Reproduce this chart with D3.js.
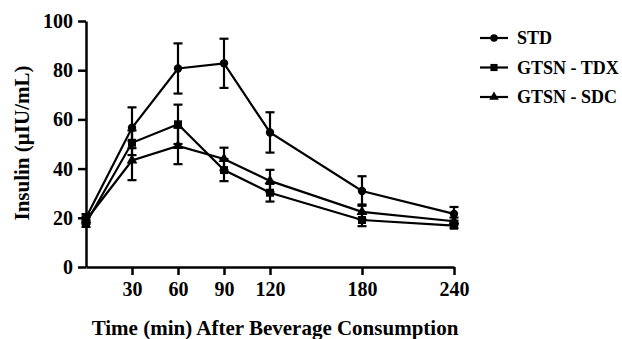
<!DOCTYPE html>
<html>
<head>
<meta charset="utf-8">
<script src="https://cdn.jsdelivr.net/npm/d3@7"></script>
<style>
  body { margin: 0; background: #fff; }
  svg text { font-family: "Liberation Serif", "Times New Roman", serif; font-weight: bold; fill: #000; }
</style>
</head>
<body>
<svg id="chart" width="622" height="339"></svg>
<script>
// time points (min) and mean +/- error for each beverage
const times = [0, 30, 60, 90, 120, 180, 240]
const seriesNames = ['STD', 'GTSN - TDX', 'GTSN - SDC']
const stdMean = [20, 56.6, 80.7, 82.8, 54.7, 30.9, 21.6]
const stdErr = [1.5, 8.3, 10.2, 10, 8.2, 6, 2.8]
const tdxMean = [17.8, 50.5, 58, 39.4, 30.2, 19.1, 16.8]
const tdxErr = [1.5, 5, 8, 4.5, 3.6, 2.5, 1]
const sdcMean = [19, 43.3, 49.2, 43.9, 35, 22.4, 18.6]
const sdcErr = [1.5, 8, 7.4, 4.6, 4.5, 3, 1.5]
const xTicks = [30, 60, 90, 120, 180, 240]
const yTicks = [0, 20, 40, 60, 80, 100]

const svg = d3.select('#chart')

const x = d3.scaleLinear().domain([0, 240]).range([86, 454])
const y = d3.scaleLinear().domain([0, 100]).range([267, 21])

const series = [
	{ name: seriesNames[0], mean: stdMean, err: stdErr, shape: d3.symbolCircle, size: 55 },
	{ name: seriesNames[1], mean: tdxMean, err: tdxErr, shape: d3.symbolSquare, size: 64 },
	{ name: seriesNames[2], mean: sdcMean, err: sdcErr, shape: d3.symbolTriangle, size: 50 }
]

// axes
const xAxis = svg.append('g')
	.attr('transform', `translate(0,${y(0)})`)
	.call(d3.axisBottom(x).tickValues(xTicks).tickSize(8).tickSizeOuter(0).tickPadding(7))
const yAxis = svg.append('g')
	.attr('transform', `translate(${x(0)},0)`)
	.call(d3.axisLeft(y).tickValues(yTicks).tickSize(8).tickSizeOuter(0).tickPadding(5))

;[xAxis, yAxis].forEach((ax) => {
	ax.select('.domain').attr('stroke', '#000').attr('stroke-width', 2.5)
	ax.selectAll('.tick line').attr('stroke', '#000').attr('stroke-width', 2.5)
	ax.selectAll('.tick text')
		.style('font-family', '"Liberation Serif", "Times New Roman", serif')
		.style('font-weight', 'bold')
		.style('font-size', '20px')
		.attr('fill', '#000')
})

// axis titles
svg.append('text')
	.attr('x', 275)
	.attr('y', 335)
	.attr('text-anchor', 'middle')
	.style('font-size', '21px')
	.text('Time (min) After Beverage Consumption')

svg.append('text')
	.attr('transform', 'translate(29,143) rotate(-90)')
	.attr('text-anchor', 'middle')
	.style('font-size', '21px')
	.text('Insulin (µIU/mL)')

const line = d3.line()
	.x((d, i) => x(times[i]))
	.y((d) => y(d))

series.forEach((s) => {
	const g = svg.append('g')

	// error bars
	const bars = g.selectAll('.err')
		.data(s.mean)
		.enter()
		.append('g')
		.attr('class', 'err')
		.attr('stroke', '#000')
		.attr('stroke-width', 2.2)
	bars.append('line')
		.attr('x1', (d, i) => x(times[i]))
		.attr('x2', (d, i) => x(times[i]))
		.attr('y1', (d, i) => y(d - s.err[i]))
		.attr('y2', (d, i) => y(d + s.err[i]))
	bars.append('line')
		.attr('x1', (d, i) => x(times[i]) - 4.5)
		.attr('x2', (d, i) => x(times[i]) + 4.5)
		.attr('y1', (d, i) => y(d + s.err[i]))
		.attr('y2', (d, i) => y(d + s.err[i]))
	bars.append('line')
		.attr('x1', (d, i) => x(times[i]) - 4.5)
		.attr('x2', (d, i) => x(times[i]) + 4.5)
		.attr('y1', (d, i) => y(d - s.err[i]))
		.attr('y2', (d, i) => y(d - s.err[i]))

	g.append('path')
		.datum(s.mean)
		.attr('d', line)
		.attr('fill', 'none')
		.attr('stroke', '#000')
		.attr('stroke-width', 2.2)

	g.selectAll('.pt')
		.data(s.mean)
		.enter()
		.append('path')
		.attr('class', 'pt')
		.attr('d', d3.symbol().type(s.shape).size(s.size))
		.attr('transform', (d, i) => `translate(${x(times[i])},${y(d)})`)
		.attr('fill', '#000')
})

// legend
const legend = svg.append('g')
series.forEach((s, i) => {
	const ly = 38 + i * 29.5
	legend.append('line')
		.attr('x1', 480).attr('x2', 508)
		.attr('y1', ly).attr('y2', ly)
		.attr('stroke', '#000')
		.attr('stroke-width', 2.2)
	legend.append('path')
		.attr('d', d3.symbol().type(s.shape).size(s.size * 0.8))
		.attr('transform', `translate(494,${ly})`)
		.attr('fill', '#000')
	legend.append('text')
		.attr('x', 517)
		.attr('y', ly + 6)
		.style('font-size', '18px')
		.text(s.name)
})
</script>
</body>
</html>
